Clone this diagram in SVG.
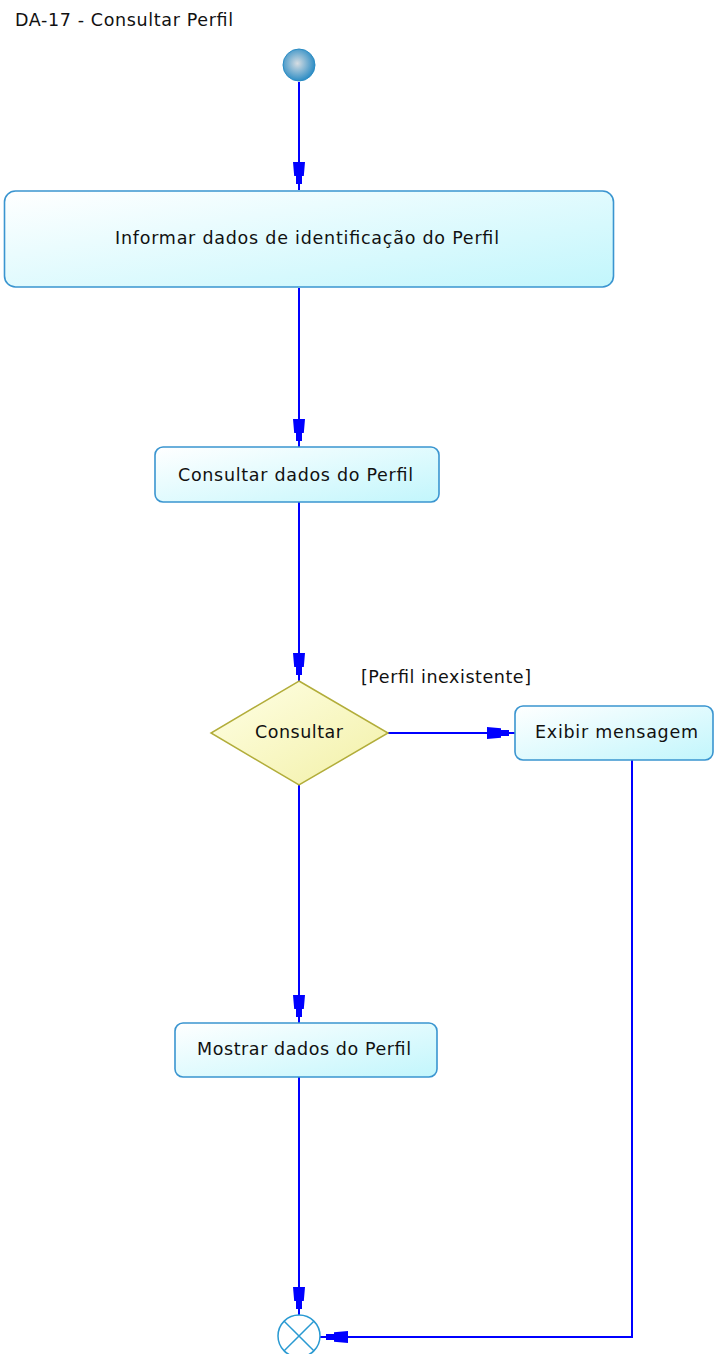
<svg xmlns="http://www.w3.org/2000/svg" width="715" height="1354" viewBox="0 0 715 1354">
<style>
.t{font-family:"DejaVu Sans","Liberation Sans",sans-serif;font-size:17.5px;fill:#111111}
.box{fill:url(#gBox);stroke:#3a95d0;stroke-width:1.6}
.edge{fill:none;stroke:#0000ff;stroke-width:2}
</style>
<defs>
<linearGradient id="gBox" x1="0" y1="0" x2="1" y2="1">
<stop offset="0" stop-color="#ffffff"/>
<stop offset="1" stop-color="#c2f6fc"/>
</linearGradient>
<linearGradient id="gDia" x1="0" y1="0" x2="1" y2="1">
<stop offset="0" stop-color="#ffffe6"/>
<stop offset="1" stop-color="#f2f0a6"/>
</linearGradient>
<radialGradient id="gStart" cx="0.45" cy="0.45" r="0.6">
<stop offset="0" stop-color="#d6dde2"/>
<stop offset="1" stop-color="#1f86c2"/>
</radialGradient>
<marker id="arr" markerUnits="userSpaceOnUse" markerWidth="30" markerHeight="16" refX="28" refY="8" orient="auto">
<path d="M0,2 L14,3.2 L14,5 L22,5 L22,11 L14,11 L14,12.8 L0,14 Z" fill="#0000ff"/>
</marker>
</defs>
<text class="t" x="15" y="26" textLength="218" lengthAdjust="spacing">DA-17 - Consultar Perfil</text>
<g id="edges">
<path class="edge" d="M299,82 L299,190" marker-end="url(#arr)"/>
<path class="edge" d="M299,288 L299,447" marker-end="url(#arr)"/>
<path class="edge" d="M299,502 L299,681" marker-end="url(#arr)"/>
<path class="edge" d="M388,733 L515,733" marker-end="url(#arr)"/>
<path class="edge" d="M299,785 L299,1023" marker-end="url(#arr)"/>
<path class="edge" d="M299,1077 L299,1315" marker-end="url(#arr)"/>
<path class="edge" d="M632,760 L632,1337 L320,1337" marker-end="url(#arr)"/>
<text class="t" x="361" y="683" textLength="170" lengthAdjust="spacing">[Perfil inexistente]</text>
</g>
<g id="start"><circle cx="299" cy="65" r="16" fill="url(#gStart)" stroke="#2a8cc4" stroke-width="1"/></g>
<g id="informar">
<rect class="box" x="4.5" y="191" width="609" height="96" rx="11"/>
<text class="t" x="115" y="244" textLength="384" lengthAdjust="spacing">Informar dados de identificação do Perfil</text>
</g>
<g id="consultarDados">
<rect class="box" x="155" y="447" width="284" height="55" rx="8"/>
<text class="t" x="178" y="481" textLength="235" lengthAdjust="spacing">Consultar dados do Perfil</text>
</g>
<g id="decisao">
<polygon points="299,681 388,733 299,785 211,733" fill="url(#gDia)" stroke="#b2ad3a" stroke-width="1.5"/>
<text class="t" x="255" y="738" textLength="88" lengthAdjust="spacing">Consultar</text>
</g>
<g id="exibir">
<rect class="box" x="515" y="706" width="198" height="54" rx="8"/>
<text class="t" x="535" y="738" textLength="163" lengthAdjust="spacing">Exibir mensagem</text>
</g>
<g id="mostrar">
<rect class="box" x="175" y="1023" width="262" height="54" rx="8"/>
<text class="t" x="197" y="1055" textLength="214" lengthAdjust="spacing">Mostrar dados do Perfil</text>
</g>
<g id="fim">
<circle cx="299" cy="1336" r="21" fill="#ffffff" stroke="#2a9ad2" stroke-width="1.5"/>
<path d="M284.2,1321.2 L313.8,1350.8 M313.8,1321.2 L284.2,1350.8" stroke="#2a9ad2" stroke-width="1.5"/>
</g>
</svg>
